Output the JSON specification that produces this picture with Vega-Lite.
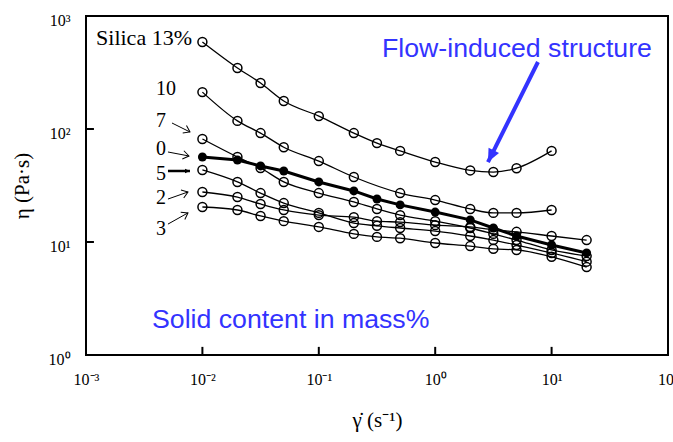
{
  "$schema": "https://vega.github.io/schema/vega-lite/v6.json",
  "width": 582,
  "height": 339,
  "autosize": {"type": "none"},
  "padding": {"left": 86, "top": 16, "right": 5, "bottom": 87},
  "background": "white",
  "config": {
    "view": {"stroke": "black", "strokeWidth": 2},
    "axis": {
      "domain": false,
      "ticks": false,
      "grid": false,
      "labelFont": "Liberation Serif", "labelFontSize": 16, "labelColor": "black",
      "titleFont": "Liberation Serif", "titleFontWeight": "normal", "titleColor": "black", "titleFontSize": 21,
      "labelFlush": false, "labelOverlap": false, "labelBound": false
    }
  },
  "datasets": {
    "curves": [
      {"s": "13", "r": 0.01, "v": 589}, {"s": "13", "r": 0.02, "v": 347}, {"s": "13", "r": 0.0316, "v": 255}, {"s": "13", "r": 0.05, "v": 177}, {"s": "13", "r": 0.1, "v": 130}, {"s": "13", "r": 0.2, "v": 92}, {"s": "13", "r": 0.316, "v": 75}, {"s": "13", "r": 0.5, "v": 64}, {"s": "13", "r": 1, "v": 51}, {"s": "13", "r": 2, "v": 43}, {"s": "13", "r": 3.16, "v": 41.6}, {"s": "13", "r": 5, "v": 45}, {"s": "13", "r": 10, "v": 64},
      {"s": "10", "r": 0.01, "v": 212}, {"s": "10", "r": 0.02, "v": 118}, {"s": "10", "r": 0.0316, "v": 92}, {"s": "10", "r": 0.05, "v": 69}, {"s": "10", "r": 0.1, "v": 52}, {"s": "10", "r": 0.2, "v": 37.6}, {"s": "10", "r": 0.5, "v": 27.1}, {"s": "10", "r": 1, "v": 23.5}, {"s": "10", "r": 2, "v": 19.6}, {"s": "10", "r": 3.16, "v": 18.1}, {"s": "10", "r": 5, "v": 18.1}, {"s": "10", "r": 10, "v": 19.2},
      {"s": "7", "r": 0.01, "v": 81.6}, {"s": "7", "r": 0.02, "v": 56.5}, {"s": "7", "r": 0.0316, "v": 45.2}, {"s": "7", "r": 0.05, "v": 34.0}, {"s": "7", "r": 0.1, "v": 27.1}, {"s": "7", "r": 0.2, "v": 22.6}, {"s": "7", "r": 0.316, "v": 19.6}, {"s": "7", "r": 0.5, "v": 17.3}, {"s": "7", "r": 1, "v": 15.3}, {"s": "7", "r": 2, "v": 13.3}, {"s": "7", "r": 3.16, "v": 11.8}, {"s": "7", "r": 5, "v": 10.4}, {"s": "7", "r": 10, "v": 8.5}, {"s": "7", "r": 20, "v": 7.5},
      {"s": "0", "r": 0.01, "v": 56.5}, {"s": "0", "r": 0.02, "v": 53.2}, {"s": "0", "r": 0.0316, "v": 47.1}, {"s": "0", "r": 0.05, "v": 42.5}, {"s": "0", "r": 0.1, "v": 34.0}, {"s": "0", "r": 0.2, "v": 28.3}, {"s": "0", "r": 0.316, "v": 24.0}, {"s": "0", "r": 0.5, "v": 21.3}, {"s": "0", "r": 1, "v": 18.4}, {"s": "0", "r": 2, "v": 15.7}, {"s": "0", "r": 3.16, "v": 13.3}, {"s": "0", "r": 5, "v": 11.3}, {"s": "0", "r": 10, "v": 9.4}, {"s": "0", "r": 20, "v": 8.0},
      {"s": "5", "r": 0.01, "v": 43.4}, {"s": "5", "r": 0.02, "v": 34.0}, {"s": "5", "r": 0.0316, "v": 27.1}, {"s": "5", "r": 0.05, "v": 22.1}, {"s": "5", "r": 0.1, "v": 18.1}, {"s": "5", "r": 0.2, "v": 14.7}, {"s": "5", "r": 0.316, "v": 13.9}, {"s": "5", "r": 0.5, "v": 13.3}, {"s": "5", "r": 1, "v": 12.5}, {"s": "5", "r": 2, "v": 11.3}, {"s": "5", "r": 3.16, "v": 10.4}, {"s": "5", "r": 5, "v": 9.4}, {"s": "5", "r": 10, "v": 8.0}, {"s": "5", "r": 20, "v": 6.7},
      {"s": "2", "r": 0.01, "v": 27.7}, {"s": "2", "r": 0.02, "v": 25.0}, {"s": "2", "r": 0.0316, "v": 21.7}, {"s": "2", "r": 0.05, "v": 19.2}, {"s": "2", "r": 0.1, "v": 17.3}, {"s": "2", "r": 0.2, "v": 16.6}, {"s": "2", "r": 0.316, "v": 15.3}, {"s": "2", "r": 0.5, "v": 15.0}, {"s": "2", "r": 1, "v": 14.1}, {"s": "2", "r": 2, "v": 13.6}, {"s": "2", "r": 3.16, "v": 12.8}, {"s": "2", "r": 5, "v": 12.3}, {"s": "2", "r": 10, "v": 11.3}, {"s": "2", "r": 20, "v": 10.4},
      {"s": "3", "r": 0.01, "v": 20.4}, {"s": "3", "r": 0.02, "v": 19.2}, {"s": "3", "r": 0.0316, "v": 17.0}, {"s": "3", "r": 0.05, "v": 15.3}, {"s": "3", "r": 0.1, "v": 13.6}, {"s": "3", "r": 0.2, "v": 11.8}, {"s": "3", "r": 0.316, "v": 11.1}, {"s": "3", "r": 0.5, "v": 10.8}, {"s": "3", "r": 1, "v": 9.8}, {"s": "3", "r": 2, "v": 9.2}, {"s": "3", "r": 3.16, "v": 8.7}, {"s": "3", "r": 5, "v": 8.5}, {"s": "3", "r": 10, "v": 7.4}, {"s": "3", "r": 20, "v": 6.0}
    ],
    "labels": [
      {"t": "Silica 13%", "g": "head", "r": 0.00122, "v": 554},
      {"t": "10", "g": "num", "r": 0.004, "v": 200},
      {"t": "7", "g": "num", "r": 0.004, "v": 104},
      {"t": "0", "g": "num", "r": 0.004, "v": 58.9},
      {"t": "5", "g": "num", "r": 0.004, "v": 35.4},
      {"t": "2", "g": "num", "r": 0.004, "v": 21.7},
      {"t": "3", "g": "num", "r": 0.004, "v": 11.5},
      {"t": "Flow-induced structure", "g": "blue", "r": 0.349, "v": 434},
      {"t": "Solid content in mass%", "g": "blue", "r": 0.00369, "v": 1.73}
    ],
    "arrows": [
      {"k": "thin", "r": 0.00548, "v": 113, "r2": 0.00782, "v2": 94.1},
      {"k": "thin", "r": 0.00506, "v": 62.6, "r2": 0.00767, "v2": 57.7},
      {"k": "thick", "r": 0.00506, "v": 42.5, "r2": 0.00782, "v2": 42.5},
      {"k": "thin", "r": 0.00506, "v": 24.0, "r2": 0.00752, "v2": 27.7},
      {"k": "thin", "r": 0.00506, "v": 14.4, "r2": 0.00752, "v2": 18.1},
      {"k": "blue", "r": 7.64, "v": 391.6, "r2": 2.84, "v2": 51.0}
    ],
    "ticks": [
      {"r": 0.01, "v": 1, "r2": 0.01, "v2": 1.18},
      {"r": 0.1, "v": 1, "r2": 0.1, "v2": 1.18},
      {"r": 1, "v": 1, "r2": 1, "v2": 1.18},
      {"r": 10, "v": 1, "r2": 10, "v2": 1.18},
      {"r": 0.001, "v": 10, "r2": 0.00117, "v2": 10},
      {"r": 0.001, "v": 100, "r2": 0.00117, "v2": 100}
    ]
  },
  "encoding": {
    "x": {
      "field": "r", "type": "quantitative",
      "scale": {"type": "log", "domain": [0.001, 100], "nice": false},
      "axis": {
        "values": [0.001, 0.01, 0.1, 1, 10, 100],
        "labelExpr": "datum.value < 0.002 ? '10⁻³' : datum.value < 0.02 ? '10⁻²' : datum.value < 0.2 ? '10⁻¹' : datum.value < 2 ? '10⁰' : datum.value < 20 ? '10¹' : '10²'",
        "labelPadding": 16,
        "title": "γ̇  (s⁻¹)",
        "titlePadding": 22
      }
    },
    "y": {
      "field": "v", "type": "quantitative",
      "scale": {"type": "log", "domain": [1, 1000], "nice": false},
      "axis": {
        "values": [1, 10, 100, 1000],
        "labelExpr": "datum.value > 500 ? '10³' : datum.value > 50 ? '10²' : datum.value > 5 ? '10¹' : '10⁰'",
        "labelPadding": 16,
        "labelOffset": 4,
        "title": "η  (Pa·s)",
        "titlePadding": 16
      }
    }
  },
  "layer": [
    {
      "data": {"name": "ticks"},
      "mark": {"type": "rule", "color": "black", "strokeWidth": 2, "strokeCap": "butt"},
      "encoding": {"x2": {"field": "r2"}, "y2": {"field": "v2"}}
    },
    {
      "data": {"name": "curves"},
      "transform": [{"filter": "datum.s != '0'"}],
      "mark": {"type": "line", "interpolate": "monotone", "color": "black", "strokeWidth": 1.3},
      "encoding": {"detail": {"field": "s"}}
    },
    {
      "data": {"name": "curves"},
      "transform": [{"filter": "datum.s == '0'"}],
      "mark": {"type": "line", "color": "black", "strokeWidth": 3},
      "encoding": {"detail": {"field": "s"}}
    },
    {
      "data": {"name": "curves"},
      "transform": [{"filter": "datum.s != '0'"}],
      "mark": {"type": "point", "shape": "circle", "filled": false, "color": "black", "strokeWidth": 1.5, "size": 80, "opacity": 1}
    },
    {
      "data": {"name": "curves"},
      "transform": [{"filter": "datum.s == '0'"}],
      "mark": {"type": "point", "shape": "circle", "filled": true, "color": "black", "size": 80, "opacity": 1}
    },
    {
      "data": {"name": "arrows"},
      "mark": {"type": "rule", "strokeCap": "butt"},
      "encoding": {
        "x2": {"field": "r2"},
        "y2": {"field": "v2"},
        "color": {"field": "k", "type": "nominal", "scale": {"domain": ["thin", "thick", "blue"], "range": ["black", "black", "#3333ff"]}, "legend": null},
        "strokeWidth": {"field": "k", "type": "nominal", "scale": {"domain": ["thin", "thick", "blue"], "range": [1, 4, 2.5]}, "legend": null}
      }
    },
    {
      "data": {"name": "arrows"},
      "transform": [
        {"filter": "datum.k == 'thin'"},
        {"calculate": "atan2(-(log(datum.v2) - log(datum.v)) / LN10 * 113, (log(datum.r2) - log(datum.r)) / LN10 * 116.4) * 180 / PI", "as": "ang"}
      ],
      "mark": {"type": "point", "shape": "M-1,-0.7L0,0L-1,0.7", "filled": false, "color": "black", "strokeWidth": 1, "size": 144, "opacity": 1},
      "encoding": {
        "x": {"field": "r2", "type": "quantitative"},
        "y": {"field": "v2", "type": "quantitative"},
        "angle": {"field": "ang", "type": "quantitative", "scale": null}
      }
    },
    {
      "data": {"name": "arrows"},
      "transform": [
        {"filter": "datum.k != 'thin'"},
        {"calculate": "atan2(-(log(datum.v2) - log(datum.v)) / LN10 * 113, (log(datum.r2) - log(datum.r)) / LN10 * 116.4) * 180 / PI", "as": "ang"}
      ],
      "mark": {"type": "point", "shape": "M0,0L-1,-0.45L-1,0.45Z", "filled": true, "opacity": 1},
      "encoding": {
        "x": {"field": "r2", "type": "quantitative"},
        "y": {"field": "v2", "type": "quantitative"},
        "angle": {"field": "ang", "type": "quantitative", "scale": null},
        "color": {"field": "k", "type": "nominal", "scale": {"domain": ["thin", "thick", "blue"], "range": ["black", "black", "#3333ff"]}, "legend": null},
        "size": {"field": "k", "type": "nominal", "scale": {"domain": ["thick", "blue"], "range": [100, 676]}, "legend": null}
      }
    },
    {
      "data": {"name": "labels"},
      "transform": [{"filter": "datum.g == 'head'"}],
      "mark": {"type": "text", "align": "left", "baseline": "alphabetic", "font": "Liberation Serif", "fontSize": 22, "color": "black"},
      "encoding": {"text": {"field": "t"}}
    },
    {
      "data": {"name": "labels"},
      "transform": [{"filter": "datum.g == 'num'"}],
      "mark": {"type": "text", "align": "left", "baseline": "alphabetic", "font": "Liberation Serif", "fontSize": 20, "color": "black"},
      "encoding": {"text": {"field": "t"}}
    },
    {
      "data": {"name": "labels"},
      "transform": [{"filter": "datum.g == 'blue'"}],
      "mark": {"type": "text", "align": "left", "baseline": "alphabetic", "font": "Liberation Sans", "fontSize": 26.7, "color": "#3333ff"},
      "encoding": {"text": {"field": "t"}}
    }
  ]
}
